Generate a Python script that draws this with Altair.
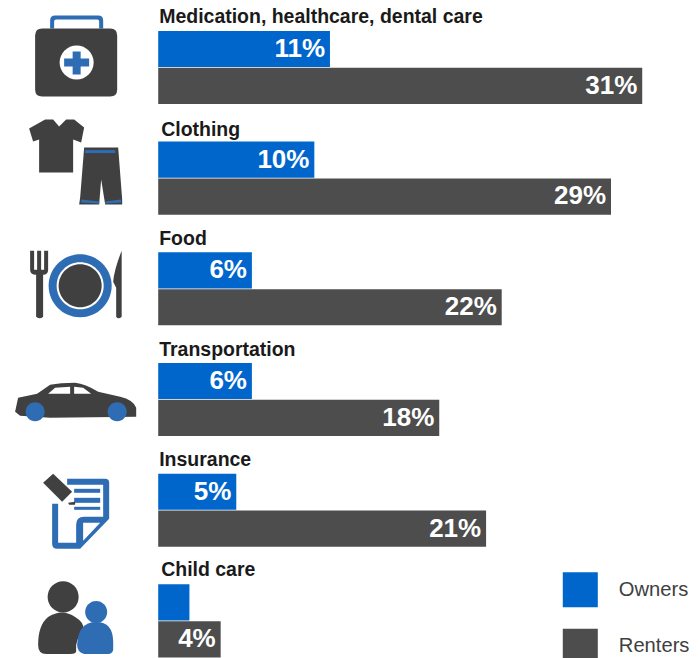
import altair as alt
import pandas as pd

categories = ["Medication, healthcare, dental care", "Clothing", "Food",
              "Transportation", "Insurance", "Child care"]
owners = [11, 10, 6, 6, 5, 2]
renters = [31, 29, 22, 18, 21, 4]
owner_labels = ["11%", "10%", "6%", "6%", "5%", ""]
renter_labels = ["31%", "29%", "22%", "18%", "21%", "4%"]
series = ["Owners", "Renters"]

BLUE, DARK = "#0066CC", "#4D4D4D"
IBLUE, IDARK = "#2E6DB4", "#404040"
FONT = "Liberation Sans"


def circle(cx, cy, r):
    return f"M{cx-r},{cy}A{r},{r} 0 1 1 {cx+r},{cy}A{r},{r} 0 1 1 {cx-r},{cy}Z"


def rect(x0, y0, x1, y1):
    return f"M{x0},{y0}L{x1},{y0}L{x1},{y1}L{x0},{y1}Z"


icon_parts = [
    # medical kit
    (IBLUE, "M50,29L50,21Q50,16 55,16L98,16Q103,16 103,21L103,29L99,29L99,22Q99,20 97,20L56,20Q54,20 54,22L54,29Z"),
    (IDARK, "M42,29L110,29Q117,29 117,36L117,90Q117,97 110,97L42,97Q35,97 35,90L35,36Q35,29 42,29Z"),
    ("#FFFFFF", circle(76.5, 63, 17)),
    (IBLUE, "M72.5,52L80.5,52L80.5,59L89,59L89,67L80.5,67L80.5,75L72.5,75L72.5,67L64,67L64,59L72.5,59Z"),
    # clothing
    (IDARK, "M29,129L45,120L53,120L59,127L66,120L74,120L84,128L81,143L73,140L73,173L39,173L39,140L33,142Z"),
    (IDARK, "M84,148L118,148L122,200L122,205L105,205L101,180L99,205L79,205L80,198Z"),
    (IBLUE, rect(85, 150.5, 115, 153.5)),
    (IBLUE, "M81,200L99,202L99,204L81,203Z"),
    (IBLUE, "M105,202L121,200L121,203L105,204Z"),
    # food
    (IDARK, "M30,251L34,251L34,270L37,270L37,251L41,251L41,270L44,270L44,251L48,251L48,270Q48,275 43,275L43,317Q40,320 36,317L36,275Q30,275 30,270Z"),
    (IBLUE, circle(80, 286, 31.5)),
    ("#FFFFFF", circle(80, 286, 23.5)),
    (IDARK, circle(80, 286, 21.5)),
    (IDARK, "M121.5,251L121.5,317Q118,320 116,317L116,288L113,282Q114,270 121.5,251Z"),
    # car
    (IDARK, "M15,412L18,398L37,394L50,385Q60,383 75,383Q85,384 98,392L120,397Q133,400 136,408L136,417L50,418L20,416Z"),
    ("#FFFFFF", "M48,394L55,388L70,387L70,394Z"),
    ("#FFFFFF", "M74,387L83,388L91,394L74,394Z"),
    (IBLUE, circle(35, 412, 9.5)),
    (IBLUE, circle(117, 412, 9.5)),
    # insurance
    (IBLUE, "M67,479L105,479Q109,479 109,483L109,519L80,549L57,549Q52,549 52,544L52,504L58,504L58,543L76,543L76,525Q76,517 84,517L103,517L103,485L67,485Z"),
    ("#FFFFFF", "M83,523L100,523L83,541Z"),
    (IBLUE, rect(74, 489, 100, 493)),
    (IBLUE, rect(74, 498, 100, 503)),
    (IBLUE, rect(74, 507, 100, 510)),
    (IDARK, "M43,483L53,474L72,492L62,502Z"),
    (IDARK, "M68,503L75,502L75,505L69,505Z"),
    # child care
    (IDARK, circle(63, 597, 15.5)),
    (IDARK, "M38,645Q38,625 48,617Q62,608 75,617Q85,623 83,630Q75,640 76,650Q77,654 70,654L46,654Q38,654 38,645Z"),
    (IBLUE, circle(96, 612, 11)),
    (IBLUE, "M77,645Q78,622 96,622Q113,622 113,642L113,650Q112,654 108,654L84,654Q77,652 77,645Z"),
]

df = pd.DataFrame(
    [{"cat": c, "series": "Owners", "value": v, "label": l}
     for c, v, l in zip(categories, owners, owner_labels)]
    + [{"cat": c, "series": "Renters", "value": v, "label": l}
       for c, v, l in zip(categories, renters, renter_labels)]
)
cats_df = pd.DataFrame({"cat": categories})

x_scale = alt.Scale(domain=[-9.621, 34.124], range=[0, 691], nice=False, zero=False)
y_scale = alt.Scale(domain=categories, range=[0, 660], paddingInner=0.34, paddingOuter=0.1167, align=0.74)
y_enc = alt.Y("cat:N", scale=y_scale, axis=None, title=None)
y_off = alt.YOffset("series:N", scale=alt.Scale(domain=series, paddingInner=0.02, paddingOuter=0), title=None)

bars = alt.Chart(df).mark_bar(stroke=None).encode(
    x=alt.X("value:Q", scale=x_scale, axis=None, title=None),
    y=y_enc,
    yOffset=y_off,
    color=alt.Color(
        "series:N",
        scale=alt.Scale(domain=series, range=[BLUE, DARK]),
        legend=alt.Legend(
            orient="none", legendX=561, legendY=566.7, title=None, symbolType="square",
            symbolSize=1256, symbolStrokeWidth=0, symbolOpacity=1, labelFont=FONT,
            labelFontSize=20.4, labelColor="#404040", labelOffset=21, rowPadding=21.3,
            padding=0, labelLimit=200, symbolOffset=0,
        ),
    ),
)

values = alt.Chart(df).mark_text(
    align="right", baseline="middle", dx=-5, font=FONT, fontSize=26.3,
    fontWeight="bold", color="white",
).encode(
    x=alt.X("value:Q", scale=x_scale, axis=None),
    y=y_enc,
    yOffset=y_off,
    text="label:N",
)


def cat_titles(names, dx, dy):
    return alt.Chart(cats_df).transform_filter(
        alt.FieldOneOfPredicate(field="cat", oneOf=names)
    ).mark_text(
        align="left", baseline="middle", dx=dx, dy=dy, font=FONT, fontSize=19.7,
        fontWeight="bold", color="#1A1A1A",
    ).encode(
        x=alt.datum(0, scale=x_scale, axis=None),
        y=alt.Y("cat:N", scale=y_scale, axis=None, bandPosition=0),
        text="cat:N",
    )


title_layers = [
    cat_titles(["Medication, healthcare, dental care", "Transportation", "Insurance"], 1, -13.5),
    cat_titles(["Food"], 1, -13),
    cat_titles(["Clothing"], 3, -12),
    cat_titles(["Child care"], 3, -14.5),
]

anchor = pd.DataFrame({"a": [0]})
icons = [
    alt.Chart(anchor).mark_point(
        shape=path, filled=True, size=4.1, color=col, opacity=1, strokeWidth=0
    ).encode(x=alt.value(-8), y=alt.value(-12.45))
    for col, path in icon_parts
]

chart = alt.layer(bars, values, *title_layers, *icons).properties(
    width=691, height=650, padding=0,
    autosize=alt.AutoSizeParams(type="none"),
).configure_view(stroke=None).configure_legend(symbolType="square")

chart.save("out.html", embed_options={"renderer": "svg", "actions": False})
